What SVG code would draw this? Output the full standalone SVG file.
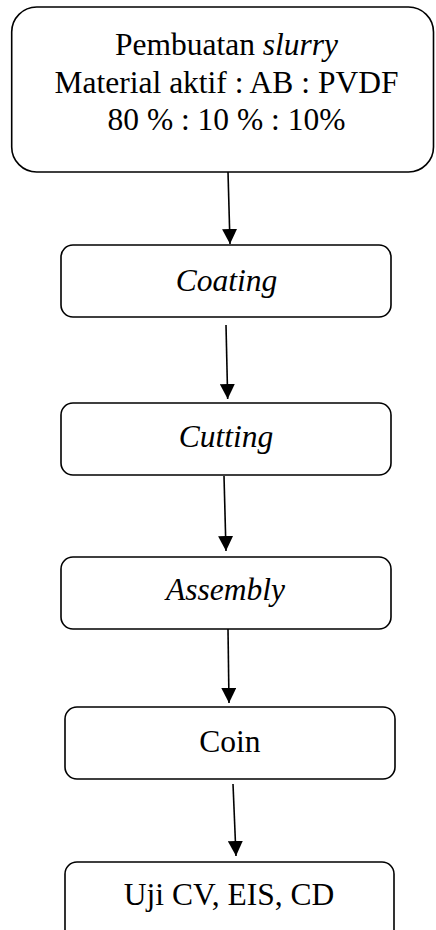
<svg xmlns="http://www.w3.org/2000/svg" width="436" height="930" viewBox="0 0 436 930">
  <style>
    .box { fill: #ffffff; stroke: #000000; stroke-width: 1.6; }
    .lbl { font-size: 31.5px; fill: #000000; text-anchor: middle; }
    .it { font-style: italic; }
    .edge { stroke: #000000; stroke-width: 1.6; fill: none; marker-end: url(#arrow); }
  </style>
  <defs>
    <marker id="arrow" markerUnits="userSpaceOnUse" markerWidth="15" markerHeight="15" refX="15" refY="7.5" orient="auto">
      <path d="M0,0 L15,7.5 L0,15 Z" fill="#000000"/>
    </marker>
  </defs>
  <rect width="436" height="930" fill="#ffffff"/>

  <g font-family="'Liberation Serif', 'Times New Roman', Times, 'DejaVu Serif', serif">
    <g id="node-slurry">
      <rect class="box" x="11.7" y="7" width="421.8" height="165" rx="25" ry="25"/>
      <text class="lbl" x="226.5" y="55">Pembuatan <tspan class="it">slurry</tspan></text>
      <text class="lbl" x="226.5" y="92.7">Material aktif : AB : PVDF</text>
      <text class="lbl" x="226.5" y="130">80 % : 10 % : 10%</text>
    </g>

    <g id="node-coating">
      <rect class="box" x="61" y="245" width="330" height="72" rx="12" ry="12"/>
      <text class="lbl it" x="226.5" y="290.5">Coating</text>
    </g>

    <g id="node-cutting">
      <rect class="box" x="61" y="403" width="330" height="72" rx="12" ry="12"/>
      <text class="lbl it" x="226" y="446.7">Cutting</text>
    </g>

    <g id="node-assembly">
      <rect class="box" x="61" y="557" width="330" height="72" rx="12" ry="12"/>
      <text class="lbl it" x="225.5" y="600">Assembly</text>
    </g>

    <g id="node-coin">
      <rect class="box" x="65" y="707" width="330" height="72" rx="12" ry="12"/>
      <text class="lbl" x="230" y="751.7">Coin</text>
    </g>

    <g id="node-uji">
      <rect class="box" x="65" y="862" width="329" height="100" rx="12" ry="12"/>
      <text class="lbl" x="229" y="905">Uji CV, EIS, CD</text>
    </g>
  </g>

  <g id="connectors">
    <line class="edge" x1="228" y1="172" x2="230" y2="244"/>
    <line class="edge" x1="226" y1="325" x2="227.7" y2="399"/>
    <line class="edge" x1="224" y1="476" x2="226" y2="551"/>
    <line class="edge" x1="228" y1="629" x2="229" y2="703"/>
    <line class="edge" x1="233" y1="784" x2="236" y2="856"/>
  </g>
</svg>
